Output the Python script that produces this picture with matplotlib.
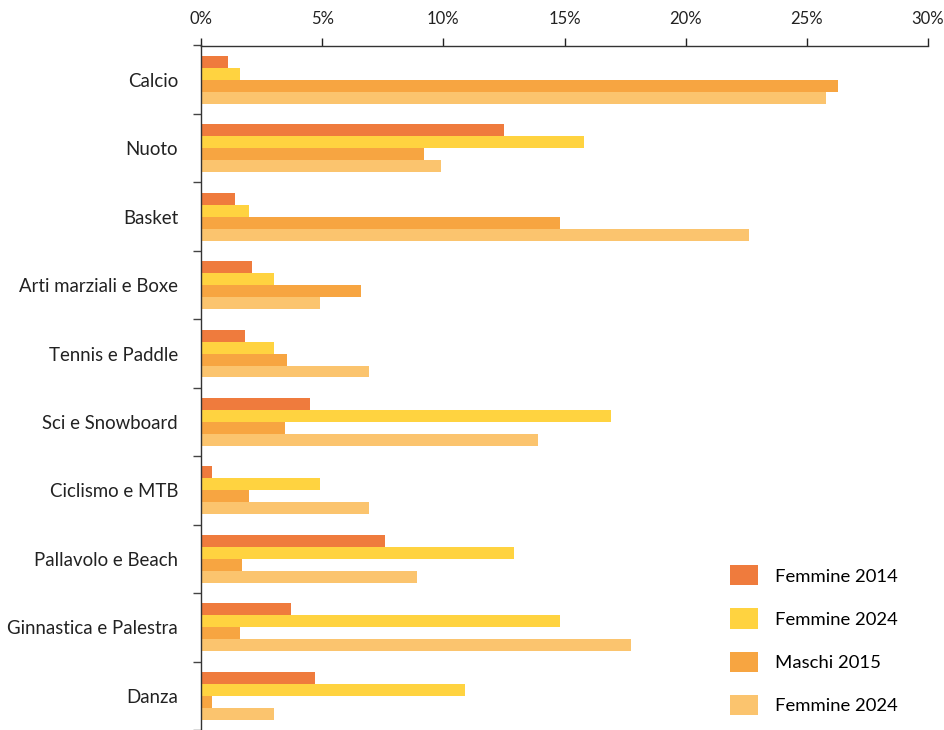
import numpy as np
import matplotlib.pyplot as plt
from matplotlib.ticker import FixedLocator

plt.rcParams['font.family'] = ['Lato', 'DejaVu Sans']

# data (percent)
categories = ["Calcio", "Nuoto", "Basket", "Arti marziali e Boxe", "Tennis e Paddle",
              "Sci e Snowboard", "Ciclismo e MTB", "Pallavolo e Beach",
              "Ginnastica e Palestra", "Danza"]
femmine_2014 = [1.1, 12.5, 1.4, 2.1, 1.8, 4.5, 0.45, 7.6, 3.7, 4.7]
femmine_2024 = [1.6, 15.8, 2.0, 3.0, 3.0, 16.9, 4.9, 12.9, 14.8, 10.9]
maschi_2015 = [26.3, 9.2, 14.8, 6.6, 3.55, 3.45, 2.0, 1.7, 1.6, 0.45]
femmine_2024b = [25.8, 9.9, 22.6, 4.9, 6.95, 13.9, 6.95, 8.9, 17.75, 3.0]
series_names = ["Femmine 2014", "Femmine 2024", "Maschi 2015", "Femmine 2024"]
colors = ["#EF7B3D", "#FFD340", "#F7A541", "#FBC46E"]
x_ticks = [0, 5, 10, 15, 20, 25, 30]

series = [femmine_2014, femmine_2024, maschi_2015, femmine_2024b]

fig = plt.figure(figsize=(9.44, 7.30), dpi=100)
ax = fig.add_axes([201 / 944, 0.0, 727 / 944, 1 - 45.5 / 730])

y = np.arange(len(categories))
h = 0.175
for i, (vals, name, col) in enumerate(zip(series, series_names, colors)):
    ax.barh(y + (i - 1.5) * h, vals, height=h, color=col, label=name)

ax.set_xlim(0, 30)
ax.set_ylim(len(categories) - 0.5, -0.5)

# x axis on top
ax.xaxis.tick_top()
ax.set_xticks(x_ticks)
ax.set_xticklabels([f"{t}%" for t in x_ticks])
ax.tick_params(axis='x', length=6, width=1, pad=7, labelsize=12, colors='#222222')

# y: labels at centers, tick marks at boundaries
ax.set_yticks(y)
ax.set_yticklabels(categories)
ax.tick_params(axis='y', which='major', length=0, pad=16.5, labelsize=13.4, labelcolor='#222222')
ax.yaxis.set_minor_locator(FixedLocator(np.arange(-0.5, len(categories), 1.0)))
ax.tick_params(axis='y', which='minor', length=6, width=1, color='#444444')

for s in ['right', 'bottom']:
    ax.spines[s].set_visible(False)
for s in ['top', 'left']:
    ax.spines[s].set_color('#333333')
    ax.spines[s].set_linewidth(1)

ax.legend(loc='lower right', bbox_to_anchor=(0.969, 0.011), frameon=False, fontsize=13.3,
          handlelength=1.51, handleheight=1.3, labelspacing=1.25, handletextpad=0.92,
          borderaxespad=0)

fig.savefig("out.png", dpi=100)
